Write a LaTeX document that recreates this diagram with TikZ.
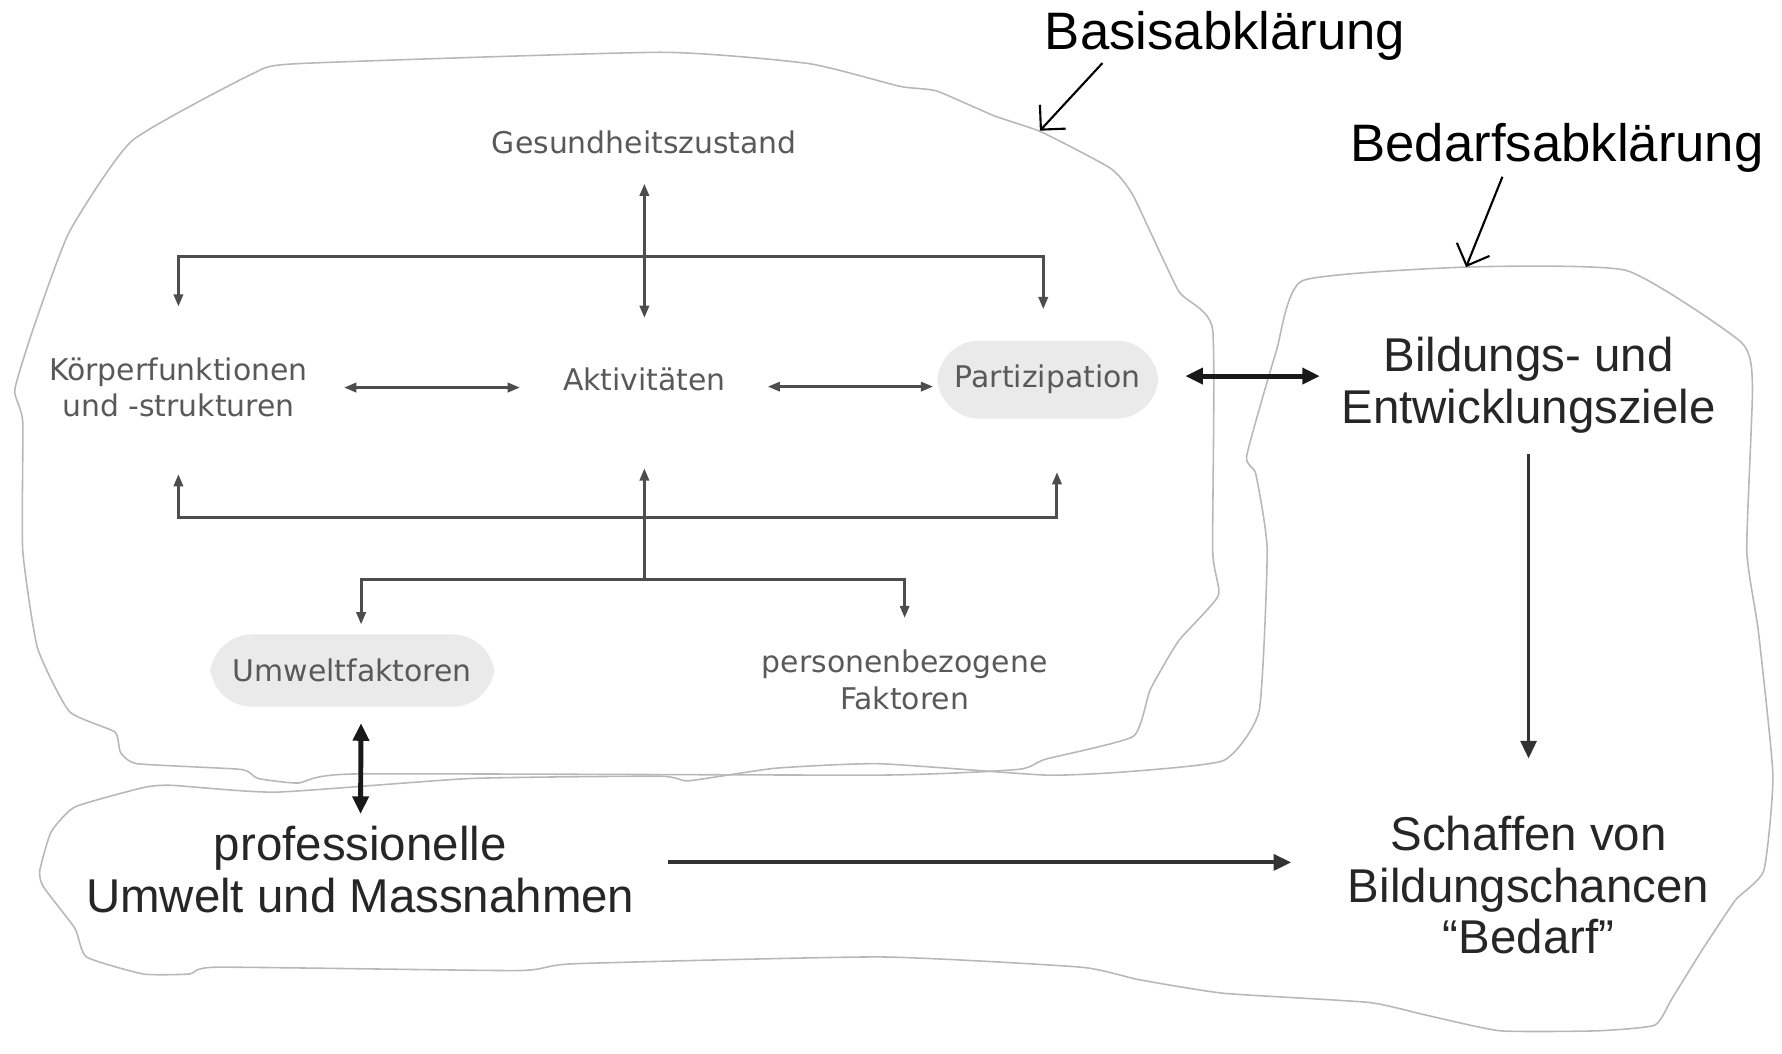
\documentclass[tikz,border=0pt]{standalone}
\usepackage{fontspec}
\setmainfont{Liberation Sans}
\newfontfamily\dejavu{DejaVu Sans}
\usepackage{tikz}
\usetikzlibrary{arrows.meta}
\definecolor{grautext}{HTML}{595959}
\definecolor{graulinie}{HTML}{4D4D4D}
\definecolor{graublase}{HTML}{EAEAEA}
\definecolor{umriss}{HTML}{B8B8B8}
\begin{document}
\begin{tikzpicture}[x=0.011365cm,y=-0.011365cm,
  klein/.style={font=\dejavu\fontsize{8.5}{10.4}\selectfont,text=grautext,align=center},
  blase/.style={klein,fill=graublase,rounded corners=12pt,inner xsep=5pt,inner ysep=7pt},
  gross/.style={font=\fontsize{13.5}{14.6}\selectfont,text=black!85,align=center},
  titel/.style={font=\fontsize{15}{17}\selectfont},
  linie/.style={draw=graulinie,line width=0.85pt},
  spitze/.style={-{Triangle[length=3.5pt,width=2.6pt]}},
  doppel/.style={{Triangle[length=3.5pt,width=2.6pt]}-{Triangle[length=3.5pt,width=2.6pt]}},
  dick/.style={draw=black!90,line width=1.4pt,{Triangle[length=5pt,width=4.5pt]}-{Triangle[length=5pt,width=4.5pt]}},
  pfeil/.style={draw=black!80,line width=1.1pt,-{Triangle[length=5pt,width=4.5pt]}},
  zeiger/.style={draw=black,line width=0.6pt,-{Straight Barb[length=5pt,width=10pt]}},
  blob/.style={draw=umriss,line width=0.45pt}]
\useasboundingbox (0,0) rectangle (1568,927);

\draw[blob] plot[smooth cycle,tension=0.3] coordinates {(222,65) (262,56) (581,46) (712,56) (792,76) (824,80) (875,102) (916,116) (977,148) (997,172) (1037,256) (1067,290) (1067,484) (1072,524) (1037,564) (1012,607) (997,648) (920,668) (896,677) (774,682) (313,681) (263,689) (227,685) (212,677) (121,672) (106,662) (101,644) (61,626) (33,570) (20,484) (20,371) (13,343) (30,287) (61,204) (116,124)};
\draw[blob] plot[smooth cycle,tension=0.3] coordinates {(1146,247) (1290,235) (1431,238) (1532,301) (1542,340) (1537,484) (1547,554) (1560,682) (1552,766) (1527,792) (1497,837) (1471,879) (1456,902) (1406,907) (1320,907) (1254,893) (1204,882) (1077,874) (1002,862) (951,851) (774,842) (505,848) (455,854) (192,851) (167,857) (126,857) (76,842) (66,817) (38,780) (35,766) (45,732) (66,710) (126,693) (151,691) (243,697) (414,685) (581,683) (606,687) (682,676) (774,672) (920,682) (992,679) (1077,669) (1108,625) (1115,484) (1105,417) (1097,401) (1123,309)};

\node[titel] (basis) at (1078,32) {Basisabklärung};
\node[titel] (bedarfsabkl) at (1370,130) {Bedarfsabklärung};
\coordinate (basisspitze) at (915,115);
\coordinate (bedarfspitze) at (1290,235);
\draw[zeiger] ([shift={(-108,-9)}]basis.south) -- (basisspitze);
\draw[zeiger] ([shift={(-48,-7)}]bedarfsabkl.south) -- (bedarfspitze);

\node[klein] (gesundheit) at (567,125) {Gesundheitszustand};
\node[klein] (koerper) at (157,341) {Körperfunktionen\\und -strukturen};
\node[klein] (aktivitaeten) at (567,334) {Aktivitäten};
\node[blase] (partizipation) at (922,334) {Partizipation};
\node[blase,inner xsep=6.5pt] (umwelt) at (310,590) {Umweltfaktoren};
\node[klein] (personen) at (796,598) {personenbezogene\\Faktoren};
\node[gross] (ziele) at (1345,339) {Bildungs- und\\Entwicklungsziele};
\node[gross] (professionell) at (317,765) {professionelle\\Umwelt und Massnahmen};
\node[gross] (bedarf) at (1345,779) {Schaffen von\\Bildungschancen\\“Bedarf”};

\coordinate (oben) at (567,226);
\coordinate (unten) at (567,455);
\coordinate (mitte) at (567,510);
\draw[linie,doppel,shorten <=5pt,shorten >=10.7pt] (gesundheit) -- (aktivitaeten);
\draw[linie,spitze,shorten >=11pt] (oben) -| (koerper.north);
\draw[linie,spitze,shorten >=8.7pt] (oben) -| ([xshift=-1.3pt]partizipation.north);
\draw[linie,doppel,shorten <=6.8pt,shorten >=8.7pt] (koerper.east) -- (koerper.east -| aktivitaeten.west);
\draw[linie,doppel,shorten <=8.4pt,shorten >=1pt] ([yshift=-2pt]aktivitaeten.east) -- ([yshift=-2pt]partizipation.west);
\draw[linie,spitze,shorten >=12.6pt] (unten) -| (koerper.south);
\draw[linie,spitze,shorten >=15pt] (unten) -| ([xshift=2.6pt]partizipation.south);
\draw[linie,spitze,shorten >=18.4pt] (mitte) -- (aktivitaeten.south);
\draw[linie,spitze,shorten >=2.6pt] (mitte) -| ([xshift=2.5pt]umwelt.north);
\draw[linie,spitze,shorten >=5.5pt] (mitte) -| (personen.north);

\draw[dick,shorten <=7.5pt,shorten >=2.6pt] ([yshift=1pt]partizipation.east) -- ([yshift=1pt]partizipation.east -| ziele.west);
\draw[dick,shorten <=4.5pt] ([xshift=2.5pt]umwelt.south) -- (professionell);
\draw[pfeil,shorten <=6pt,shorten >=12.6pt] ([yshift=2pt]professionell.east) -- ([yshift=2pt]professionell.east -| bedarf.west);
\draw[pfeil,line width=0.9pt,shorten <=2.3pt,shorten >=13pt] (ziele) -- (bedarf);
\end{tikzpicture}
\end{document}
